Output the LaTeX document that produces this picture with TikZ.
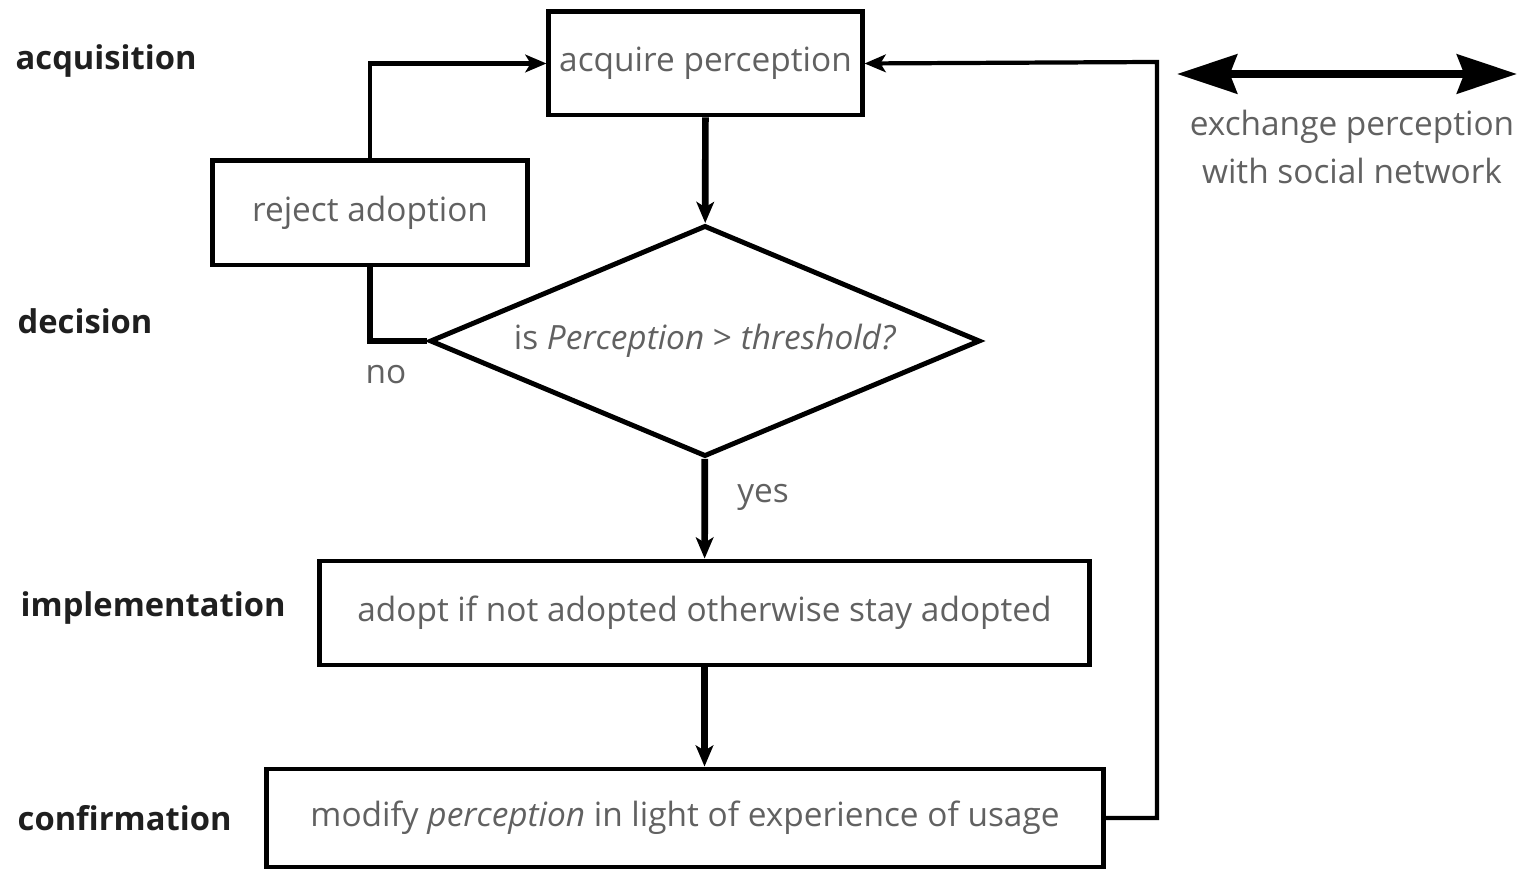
\documentclass[tikz,border=0pt]{standalone}
\usepackage{fontspec}
\setmainfont{Open Sans}
\usetikzlibrary{positioning,arrows.meta,shapes.geometric,calc}

\begin{document}
\begin{tikzpicture}[x=0.01cm,y=-0.01cm,
  blk/.style={draw, rectangle, line width=1.4pt, inner sep=0pt, text=black!62, font=\fontsize{9.5}{11}\selectfont},
  stage/.style={anchor=west, inner sep=0pt, text=black!88, font=\fontsize{9.3}{11}\selectfont\bfseries},
  lbl/.style={inner sep=0pt, text=black!62, font=\fontsize{9.5}{13.4}\selectfont},
  flow/.style={line width=1.9pt, -{Stealth[length=6pt,width=5pt,inset=1.5pt]}},
  back/.style={line width=1.2pt, -{Stealth[length=6pt,width=5pt,inset=1.5pt]}}]
\useasboundingbox (0,0) rectangle (1519,871);
% stages
\node[stage] (sacq) at (15,61) {acquisition};
\node[stage] (sdec) at (17,321) {decision};
\node[stage] (simp) at (20,608) {implementation};
\node[stage] (scon) at (17,818) {confirmation};
% blocks
\node[blk, minimum width=3.13cm, minimum height=1.03cm] (acq) at (705.5,63.5) {acquire perception};
\node[blk, minimum width=3.14cm, minimum height=1.04cm] (rej) at (370,213) {reject adoption};
\node[blk, diamond, aspect=2.38, minimum width=5.5cm, minimum height=2.31cm] (dec) at (705,341) {is \textit{Perception} > \textit{threshold?}};
\node[blk, minimum width=7.69cm, minimum height=1.04cm] (imp) at (704.5,613) {adopt if not adopted otherwise stay adopted};
\node[blk, minimum width=8.36cm, minimum height=0.98cm] (con) at (685,818) {modify \textit{perception} in light of experience of usage};
% exchange
\coordinate (exl) at (1177,74);
\coordinate (exr) at (1517,74);
\coordinate (fb) at (1157,62);
\node[lbl, align=center] (exc) at (1352,147) {exchange perception\\with social network};
% connectors
\foreach \i/\j in {acq/dec,dec/imp}{\draw[flow] (\i) -- (\j);}
\draw[flow] (imp.south) -- (imp.south |- con.north);
\draw[line width=1.9pt] (rej.south) |- (dec.west);
\draw[back] (rej.north) |- (acq.west);
\draw[back] (con.east) -| (fb) -- (acq.east);
\draw[line width=2.4pt, {Stealth[length=17pt,width=11pt,inset=2pt]}-{Stealth[length=17pt,width=11pt,inset=2pt]}] (exl) -- (exr);
\node[lbl] (no) at (386,375) {no};
\node[lbl] (yes) at (763,497) {yes};
\end{tikzpicture}
\end{document}
